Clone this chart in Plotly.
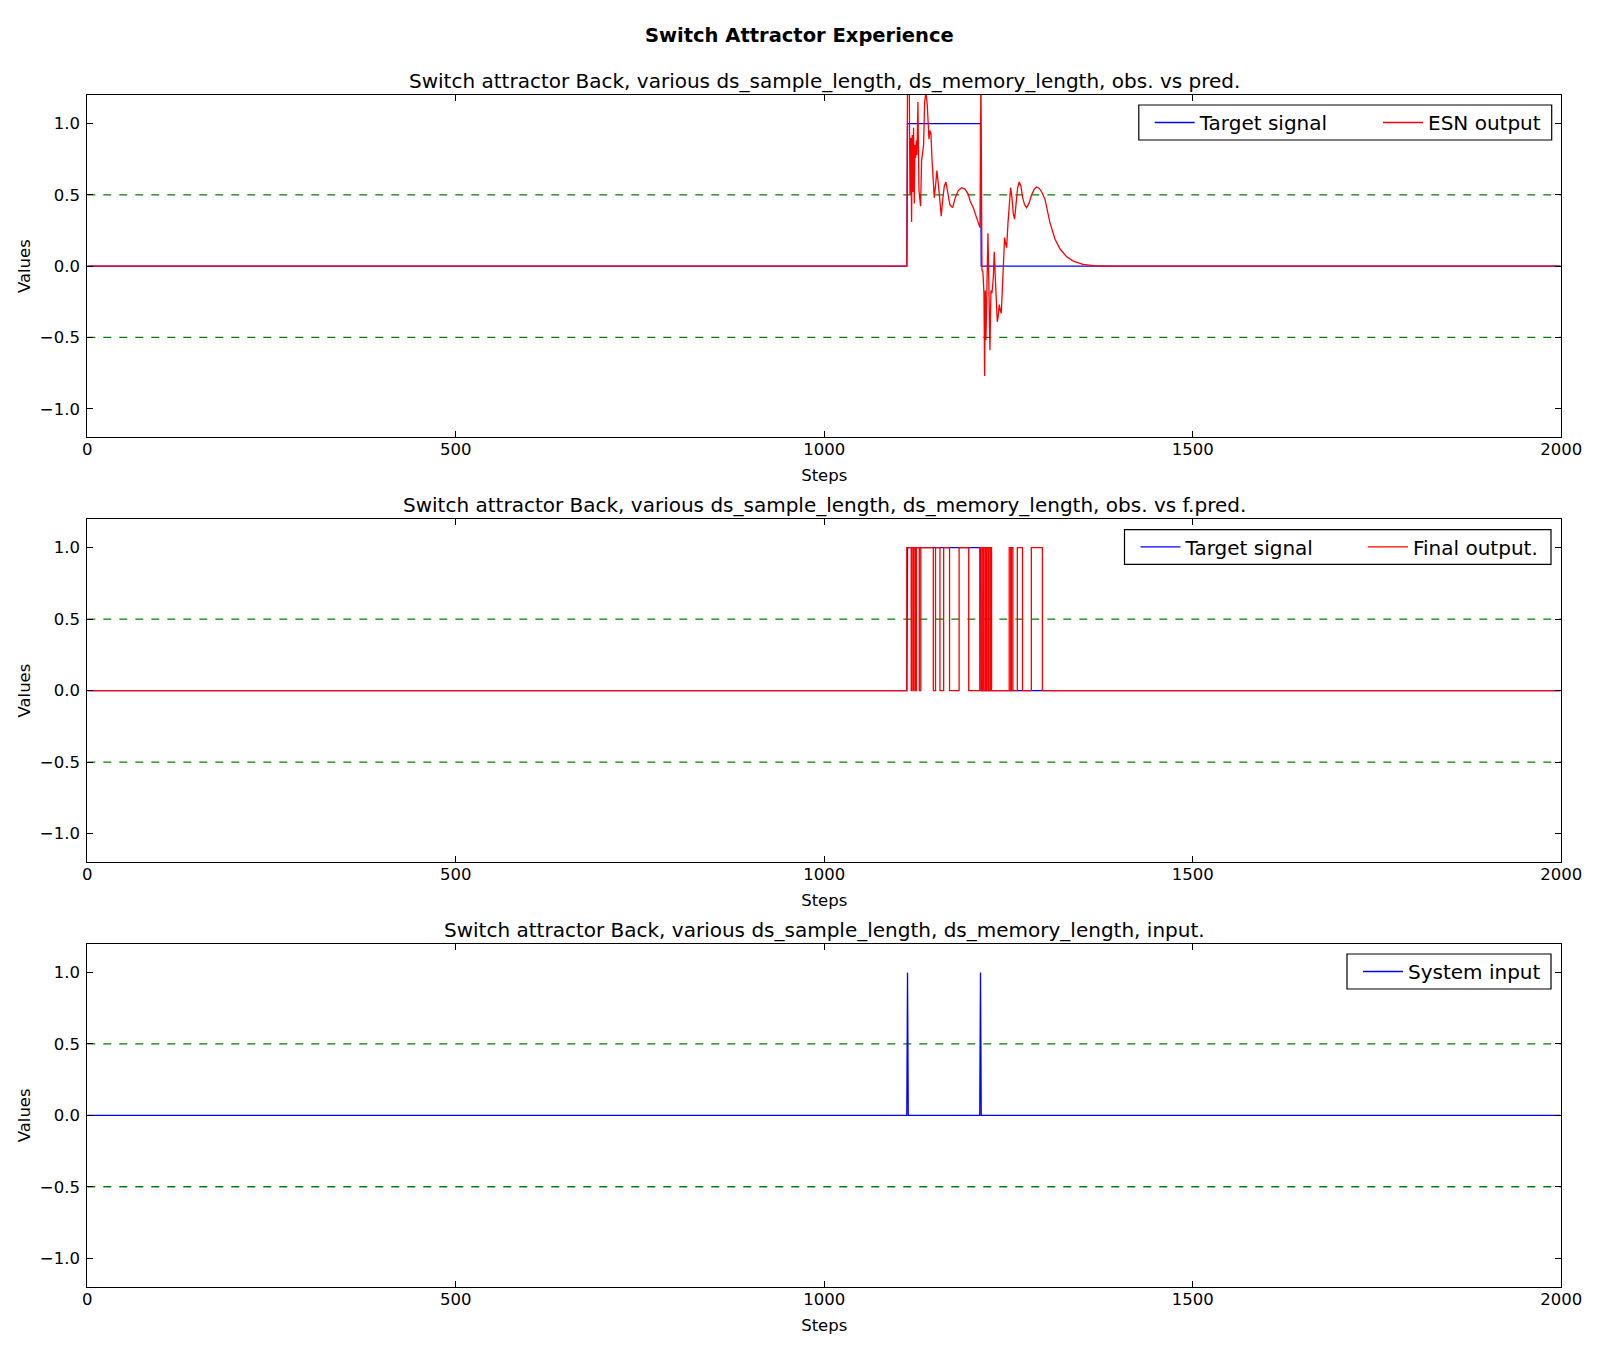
import plotly.graph_objects as go

# ---------------- data ----------------
suptitle = "Switch Attractor Experience"
titles = [
    "Switch attractor Back, various ds_sample_length, ds_memory_length, obs. vs pred.",
    "Switch attractor Back, various ds_sample_length, ds_memory_length, obs. vs f.pred.",
    "Switch attractor Back, various ds_sample_length, ds_memory_length, input.",
]
x_ticks = [0, 500, 1000, 1500, 2000]
y_ticks = [-1.0, -0.5, 0.0, 0.5, 1.0]
thresholds = [0.5, -0.5]

target_steps = [0, 1112, 1113, 1212, 1213, 1999]
target_values = [0, 0, 1, 1, 0, 0]

input_steps = [0, 1112, 1113, 1114, 1211, 1212, 1213, 1999]
input_values = [0, 0, 1, 0, 0, 1, 0, 0]

esn_steps = [0, 1112, 1113, 1114, 1115.4, 1116.3, 1117.6, 1118.5, 1119.4, 1120.3, 1121.2,
             1122.2, 1123.1, 1124.0, 1124.9, 1125.8, 1127.1, 1128.5, 1130.7, 1132.1, 1133.5,
             1134.8, 1136.2, 1138.0, 1139.8, 1141.1, 1142.1, 1143.4, 1144.8, 1146.1, 1147.9,
             1149.3, 1151.1, 1152.9, 1154.7, 1156.5, 1158.8, 1160.6, 1162.9, 1165.1, 1167.4,
             1170.5, 1174.2, 1177.8, 1181.9, 1186.4, 1190.9, 1195.4, 1197.7, 1202.2, 1206.7,
             1211.3, 1212.6, 1214.0, 1215.3, 1216.7, 1217.6, 1218.5, 1219.4, 1220.8, 1222.1,
             1223.5, 1224.8, 1226.2, 1227.6, 1229.4, 1230.7, 1232.1, 1233.4, 1234.8, 1236.1,
             1237.5, 1238.9, 1240.2, 1241.6, 1243.4, 1244.7, 1246.1, 1247.5, 1249.3, 1251.1,
             1252.9, 1254.7, 1256.5, 1258.3, 1260.1, 1262.4, 1264.6, 1266.9, 1269.2, 1271.9,
             1274.6, 1277.8, 1281.4, 1285.0, 1288.2, 1291.8, 1295.0, 1299.5, 1306, 1313,
             1320, 1329, 1338, 1351, 1365, 1383, 1999]
esn_values = [0.0, 0.0, 1.35, 1.3, 1.25, 0.50, 0.90, 0.31, 0.92, 0.52, 0.97,
              0.44, 0.85, 0.76, 0.88, 0.78, 1.15, 0.53, 0.42, 0.74, 0.81,
              0.85, 1.15, 1.22, 1.13, 0.97, 0.89, 0.95, 0.93, 0.76, 0.57,
              0.48, 0.57, 0.67, 0.58, 0.46, 0.35, 0.46, 0.56, 0.59, 0.53,
              0.43, 0.41, 0.48, 0.53, 0.55, 0.54, 0.505, 0.46, 0.41, 0.34,
              0.27, 1.35, -0.03, -0.04, -0.19, -0.77, -0.17, -0.52, -0.22, 0.23,
              -0.17, -0.59, -0.17, -0.19, -0.08, 0.10, -0.08, -0.26, -0.39, -0.35,
              -0.27, -0.31, -0.33, -0.17, 0.06, 0.20, 0.16, 0.13, 0.30, 0.46,
              0.55, 0.48, 0.37, 0.33, 0.43, 0.55, 0.59, 0.56, 0.48, 0.43,
              0.41, 0.44, 0.50, 0.54, 0.555, 0.545, 0.52, 0.47, 0.31, 0.19,
              0.12, 0.065, 0.035, 0.012, 0.003, 0.0, 0.0]

final_steps = [0, 1112, 1118, 1119, 1121, 1122, 1124, 1125, 1129, 1131, 1148, 1151, 1157,
               1162, 1170, 1183, 1196, 1211, 1213, 1215, 1216, 1217, 1219, 1220, 1222, 1223,
               1225, 1226, 1227, 1251, 1253, 1254, 1256, 1262, 1269, 1281, 1296, 1999]
final_values = [0, 1, 0, 1, 0, 1, 0, 1, 0, 1, 0, 1, 0,
                1, 0, 1, 0, 1, 0, 1, 0, 1, 0, 1, 0, 1,
                0, 1, 0, 1, 0, 1, 0, 1, 0, 1, 0, 0]

# ---------------- layout geometry ----------------
# The page body adds an 8px margin, so the figure starts at (8, 8) of the window.
OFF = 8
W, H = 1600 - OFF, 1350 - OFF


def px_x(px):
    return (px - OFF) / W


def px_y(py):
    return 1 - (py - OFF) / H


x_dom = [px_x(87.3), px_x(1561.2)]
panels_px = [(95, 437.3), (519, 862.2), (944, 1286.7)]
y_doms = [[px_y(b), px_y(t)] for t, b in panels_px]

FONT = "DejaVu Sans"
BLUE, RED, GREEN = "#0000ff", "#ff0000", "#008000"
LW = 1.3
TICK_SIZE = 16.5
TITLE_SIZE = 20
LEGEND_SIZE = 20

fig = go.Figure()


def ax_suffix(i):
    return "" if i == 1 else str(i)


def add_line(x, y, color, name, axis_idx, legend, shape="linear"):
    s = ax_suffix(axis_idx)
    fig.add_trace(go.Scatter(
        x=x, y=y, mode="lines", name=name, line=dict(color=color, width=LW, shape=shape),
        xaxis="x" + s, yaxis="y" + s, legend=legend, showlegend=True,
        hoverinfo="skip"))


# threshold lines for each panel
for i in (1, 2, 3):
    s = ax_suffix(i)
    for th in thresholds:
        fig.add_trace(go.Scatter(
            x=[0, 2000], y=[th, th], mode="lines", showlegend=False,
            line=dict(color=GREEN, width=LW, dash="8px,8px"),
            xaxis="x" + s, yaxis="y" + s, hoverinfo="skip"))

add_line(target_steps, target_values, BLUE, "Target signal", 1, "legend")
add_line(esn_steps, esn_values, RED, "ESN output", 1, "legend2")
add_line(target_steps, target_values, BLUE, "Target signal", 2, "legend3")
add_line(final_steps, final_values, RED, "Final output.", 2, "legend4", shape="hv")
add_line(input_steps, input_values, BLUE, "System input", 3, "legend5")

axis_common = dict(
    showline=True, linecolor="black", linewidth=1.2, mirror="ticks",
    ticks="inside", ticklen=6, tickcolor="black", tickwidth=1,
    showgrid=False, zeroline=False, automargin=False,
    tickfont=dict(family=FONT, size=TICK_SIZE, color="black"),
)

layout = dict(
    width=W, height=H, autosize=False,
    margin=dict(l=0, r=0, t=0, b=0, autoexpand=False),
    paper_bgcolor="white", plot_bgcolor="white",
    font=dict(family=FONT, color="black"),
    showlegend=True,
)

for i in range(3):
    s = ax_suffix(i + 1)
    layout["xaxis" + s] = dict(
        axis_common, domain=x_dom, range=[0, 2000], tickvals=x_ticks,
        ticktext=[str(v) for v in x_ticks], anchor="y" + s,
        title=dict(text="Steps", font=dict(family=FONT, size=TICK_SIZE), standoff=11),
        ticklabelstandoff=-3,
    )
    layout["yaxis" + s] = dict(
        axis_common, domain=y_doms[i], range=[-1.2, 1.2], tickvals=y_ticks,
        tickformat=".1f", anchor="x" + s,
        title=dict(text="Values", font=dict(family=FONT, size=TICK_SIZE), standoff=5),
        ticklabelstandoff=3,
    )

# legend frames (window px): left, right, top, bottom ; items: (legend key, line start px)
legend_frames = [
    (1138.8, 1551.7, 105.0, 140.0, [("legend", 1151.7), ("legend2", 1380.0)]),
    (1124.5, 1551.0, 529.6, 564.3, [("legend3", 1137.5), ("legend4", 1365.0)]),
    (1347.0, 1551.0, 954.0, 989.0, [("legend5", 1360.0)]),
]
shapes = []
for left, right, top, bottom, items in legend_frames:
    shapes.append(dict(
        type="rect", xref="paper", yref="paper", layer="above",
        x0=px_x(left), x1=px_x(right), y0=px_y(bottom), y1=px_y(top),
        line=dict(color="black", width=1.2), fillcolor="white"))
    for key, line_start in items:
        layout[key] = dict(
            x=px_x(line_start - 2), y=px_y((top + bottom) / 2),
            xanchor="left", yanchor="middle", xref="paper", yref="paper",
            orientation="h", bgcolor="rgba(0,0,0,0)", borderwidth=0,
            font=dict(family=FONT, size=LEGEND_SIZE, color="black"),
            itemwidth=40,
        )
layout["shapes"] = shapes

annotations = [dict(
    text="<b>" + suptitle + "</b>", x=px_x(799), y=px_y(35.7), xref="paper", yref="paper",
    xanchor="center", yanchor="middle", showarrow=False,
    font=dict(family=FONT, size=19.5, color="black"))]
title_y = [80.6, 505, 929.6]
for t, ty in zip(titles, title_y):
    annotations.append(dict(
        text=t, x=(x_dom[0] + x_dom[1]) / 2, y=px_y(ty), xref="paper", yref="paper",
        xanchor="center", yanchor="middle", showarrow=False,
        font=dict(family=FONT, size=TITLE_SIZE, color="black")))
layout["annotations"] = annotations

fig.update_layout(**layout)
fig.write_html("out.html")
